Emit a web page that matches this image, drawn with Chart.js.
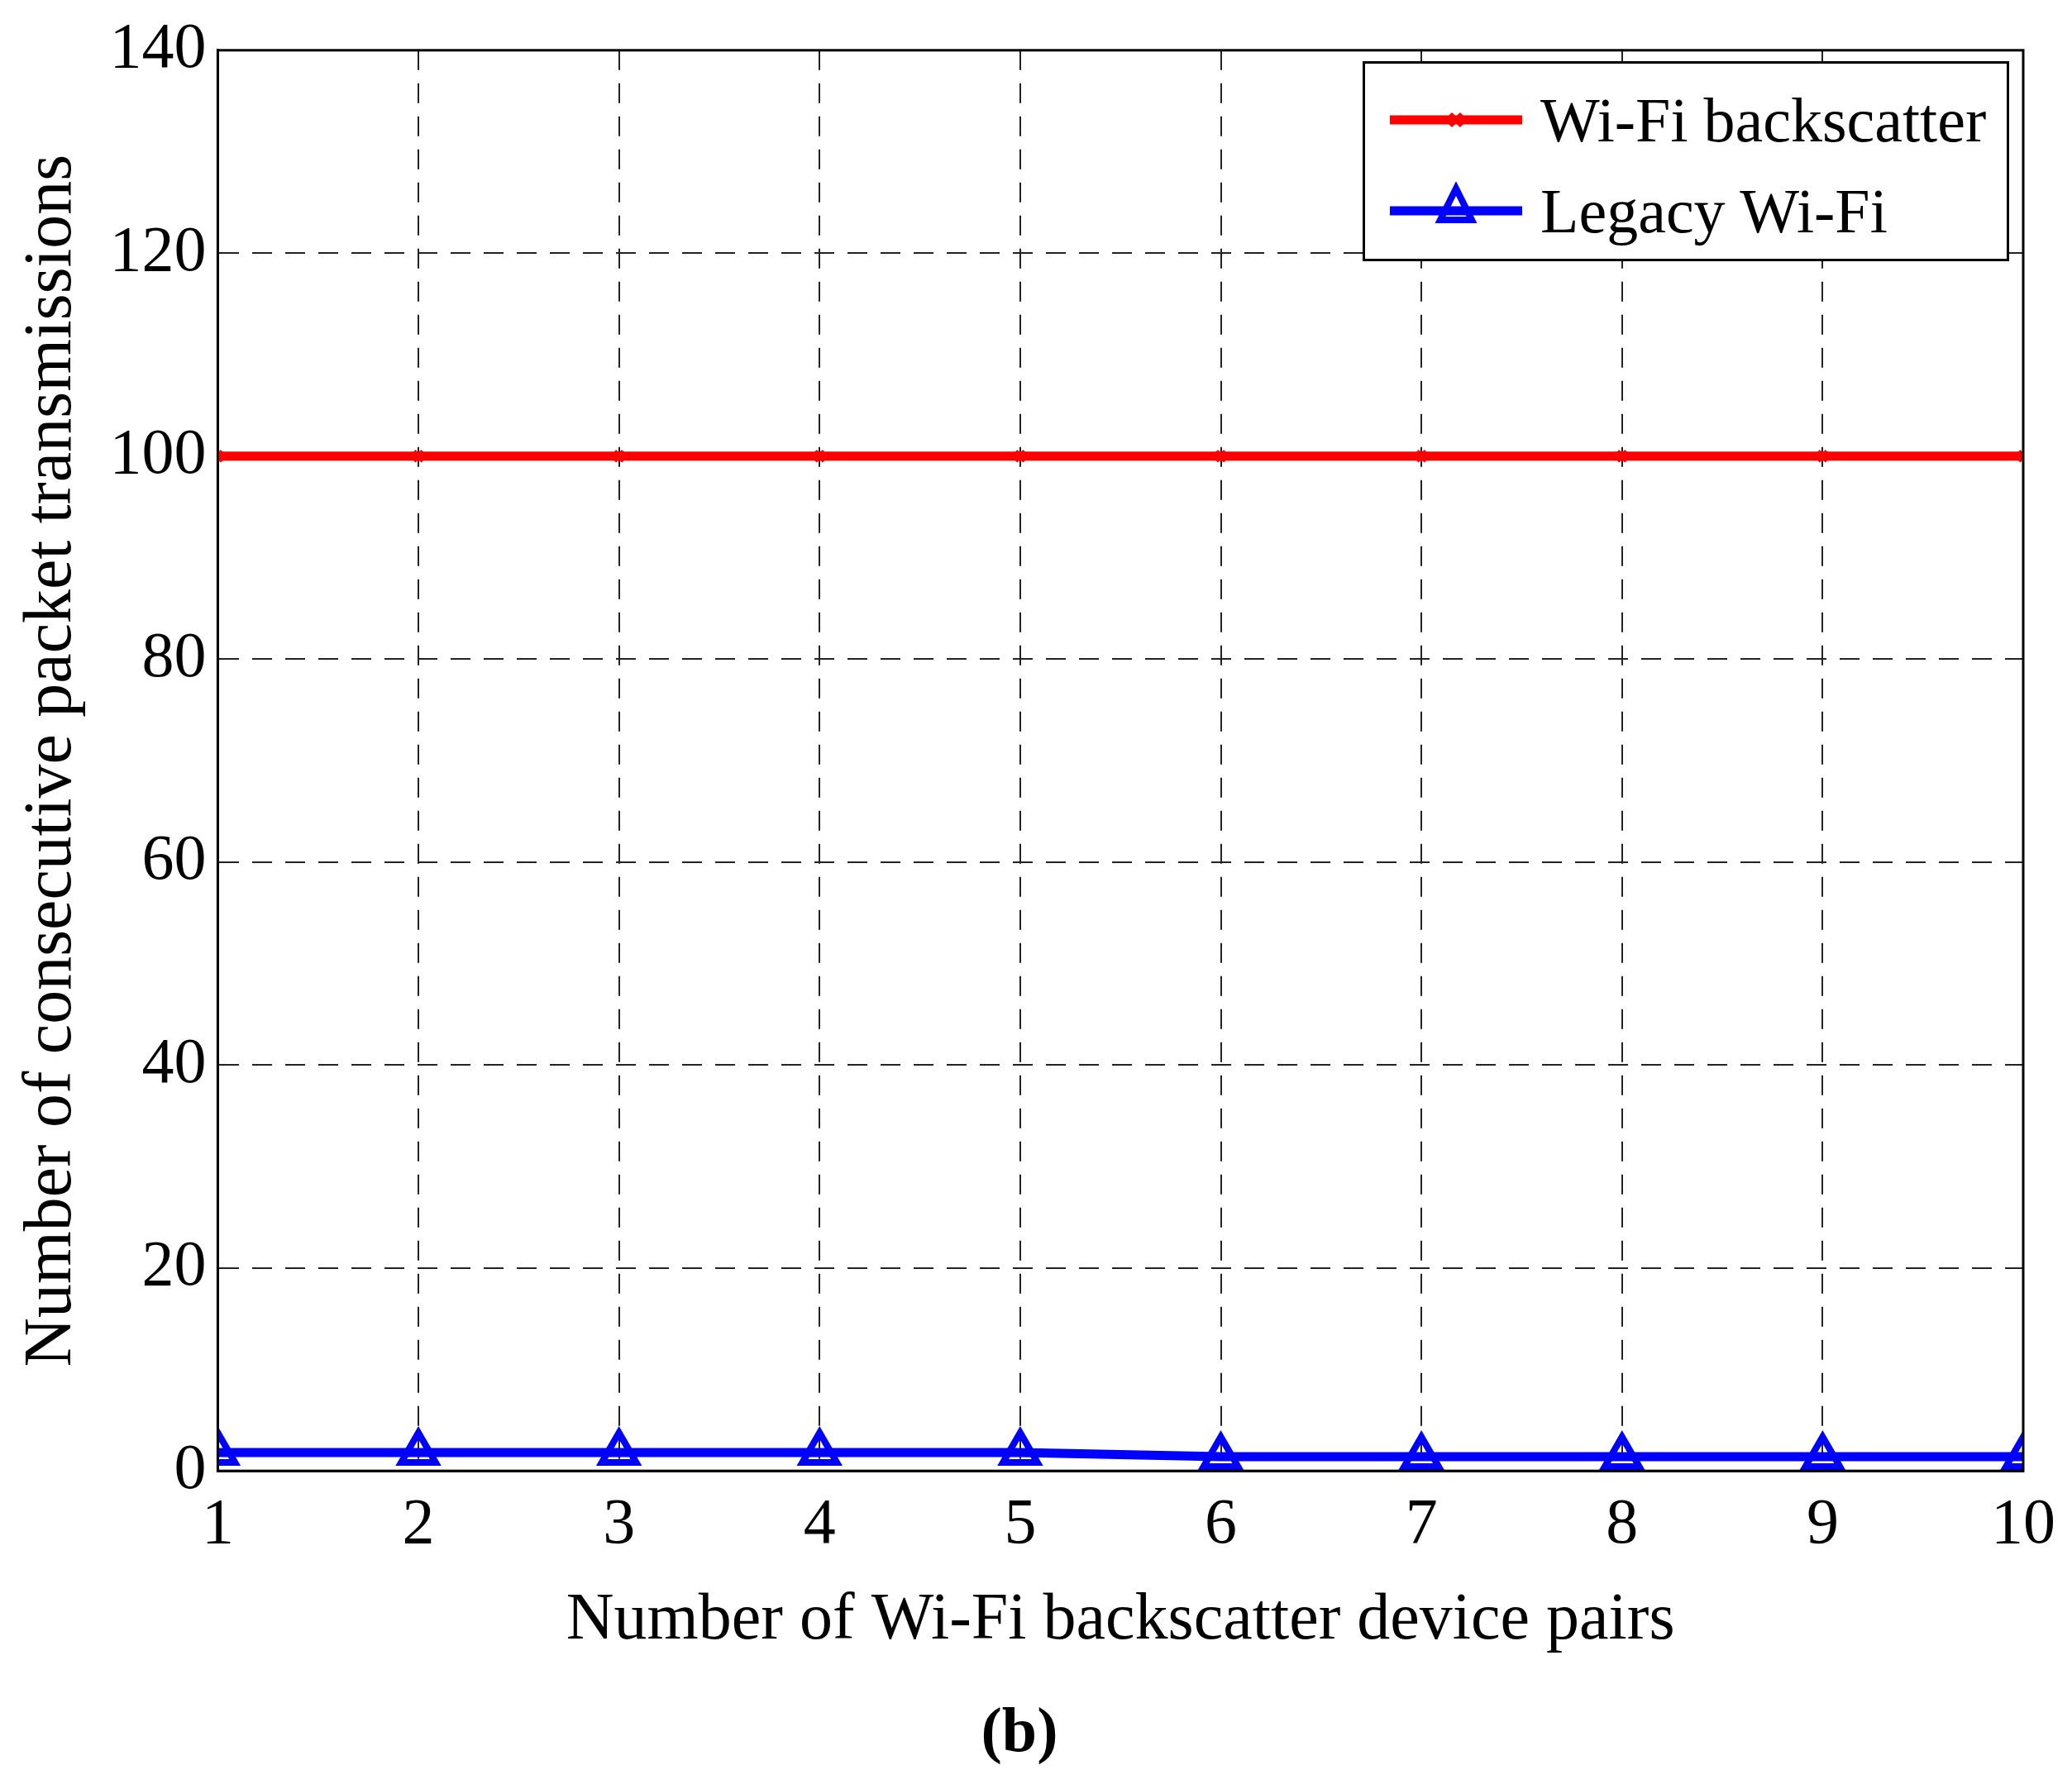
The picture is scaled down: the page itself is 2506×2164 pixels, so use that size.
<!DOCTYPE html>
<html><head><meta charset="utf-8">
<script src="https://cdn.jsdelivr.net/npm/chart.js@4"></script>
<style>
html,body{margin:0;padding:0;background:#fff;}
#wrap{position:relative;width:2506px;height:2164px;}
#legend{position:absolute;left:1648px;top:74px;width:782px;height:242px;border:3px solid #000;background:#fff;box-sizing:border-box;font-family:"Liberation Serif",serif;font-size:76px;}
.item{position:absolute;left:30px;height:80px;display:flex;align-items:center;}
.item canvas{margin-right:22px;}
</style></head><body>
<div id="wrap"><canvas id="c" width="2506" height="2164"></canvas>
<div id="legend"></div></div>
<script>
const categories=[1,2,3,4,5,6,7,8,9,10];
const backscatter=[100,100,100,100,100,100,100,100,100,100];
const legacy=[1.8,1.8,1.8,1.8,1.8,1.4,1.4,1.4,1.4,1.4];
const yTicks=[0,20,40,60,80,100,120,140];
const seriesNames=["Wi-Fi backscatter","Legacy Wi-Fi"];
const font="Liberation Serif";
const frame={id:'frame',afterDatasetsDraw(ch){const a=ch.chartArea,c=ch.ctx;c.save();c.strokeStyle='#000';c.lineWidth=3;c.strokeRect(a.left,a.top,a.right-a.left,a.bottom-a.top);c.restore();}};
const chart=new Chart(document.getElementById('c'),{type:'line',
data:{datasets:[
{label:seriesNames[0],data:categories.map((x,i)=>({x,y:backscatter[i]})),borderColor:'#ff0000',backgroundColor:'#ff0000',borderWidth:11,pointStyle:'crossRot',pointRadius:8,pointBorderWidth:6},
{label:seriesNames[1],data:categories.map((x,i)=>({x,y:legacy[i]})),borderColor:'#0000ff',backgroundColor:'rgba(0,0,0,0)',borderWidth:11,pointStyle:'triangle',pointRadius:24,pointBorderWidth:8}
]},
options:{responsive:false,animation:false,devicePixelRatio:1,
layout:{padding:{left:10,right:50,top:30,bottom:20}},
plugins:{legend:{display:false},tooltip:{enabled:false},
title:{display:true,position:'bottom',text:'(b)',color:'#000',font:{family:font,size:76,weight:'bold'},padding:{top:40,bottom:0}}},
scales:{
x:{type:'linear',min:1,max:10,ticks:{stepSize:1,color:'#000',font:{family:font,size:78},padding:20},
grid:{color:'#222',lineWidth:2,tickLength:0},border:{dash:[24,16],color:'#000',width:3},
title:{display:true,text:'Number of Wi-Fi backscatter device pairs',color:'#000',font:{family:font,size:80},padding:{top:0}}},
y:{min:0,max:140,afterBuildTicks(s){s.ticks=yTicks.map(v=>({value:v}));},ticks:{color:'#000',font:{family:font,size:78},padding:14},
grid:{color:'#222',lineWidth:2,tickLength:0},border:{dash:[24,16],color:'#000',width:3},
title:{display:true,text:'Number of consecutive packet transmissions',color:'#000',font:{family:font,size:82},padding:{bottom:6}}}
}},plugins:[frame]});
const lg=document.getElementById('legend');
chart.data.datasets.forEach((d,i)=>{const it=document.createElement('div');it.className='item';it.style.top=(28+i*110)+'px';
const cv=document.createElement('canvas');cv.width=160;cv.height=70;const c=cv.getContext('2d');
c.strokeStyle=d.borderColor;c.lineWidth=d.borderWidth;c.beginPath();c.moveTo(0,35);c.lineTo(160,35);c.stroke();
c.lineWidth=d.pointBorderWidth;
if(d.pointStyle==='triangle'){c.beginPath();c.moveTo(80,8);c.lineTo(61,46);c.lineTo(99,46);c.closePath();c.stroke();}
else{c.beginPath();c.moveTo(73,28);c.lineTo(87,42);c.moveTo(87,28);c.lineTo(73,42);c.stroke();}
it.appendChild(cv);const t=document.createElement('span');t.textContent=d.label;it.appendChild(t);lg.appendChild(it);});
</script></body></html>
